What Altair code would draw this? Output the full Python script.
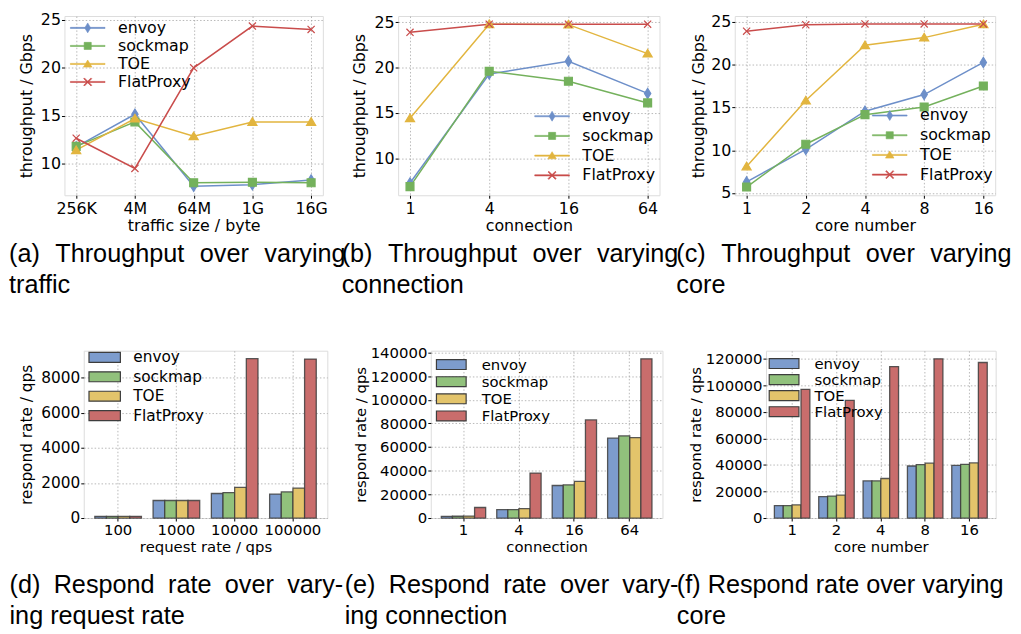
import math
import altair as alt
import pandas as pd

SERIES = ["envoy", "sockmap", "TOE", "FlatProxy"]
LINE_COLORS = ["#6d8fc9", "#74b15c", "#e2b53f", "#c94c4b"]
BAR_COLORS = ["#7d9ccd", "#91c17c", "#e3c46b", "#c96d6c"]

# (a) throughput vs traffic size
a_x = ["256K", "4M", "64M", "1G", "16G"]
a_envoy = [11.75, 15.15, 7.65, 7.8, 8.3]
a_sockmap = [11.8, 14.35, 8.0, 8.05, 8.0]
a_toe = [11.4, 14.7, 12.85, 14.35, 14.35]
a_flat = [12.65, 9.5, 20.0, 24.35, 24.0]

# (b) throughput vs connection
b_x = ["1", "4", "16", "64"]
b_envoy = [7.25, 19.3, 20.7, 17.15]
b_sockmap = [6.85, 19.6, 18.5, 16.1]
b_toe = [14.4, 24.8, 24.75, 21.55]
b_flat = [23.9, 24.8, 24.8, 24.8]

# (c) throughput vs core number
c_x = ["1", "2", "4", "8", "16"]
c_envoy = [6.3, 10.1, 14.55, 16.5, 20.25]
c_sockmap = [5.7, 10.7, 14.15, 15.05, 17.5]
c_toe = [8.1, 15.8, 22.25, 23.15, 24.7]
c_flat = [23.9, 24.65, 24.75, 24.75, 24.75]

# (d) respond rate vs request rate
d_x = ["100", "1000", "10000", "100000"]
d_envoy = [100, 1000, 1400, 1365]
d_sockmap = [100, 1000, 1455, 1490]
d_toe = [100, 1000, 1745, 1710]
d_flat = [100, 1000, 9090, 9070]

# (e) respond rate vs connection
e_x = ["1", "4", "16", "64"]
e_envoy = [1400, 7100, 27500, 67500]
e_sockmap = [1500, 7150, 28000, 69400]
e_toe = [1700, 8000, 30900, 68000]
e_flat = [8900, 38000, 82900, 134600]

# (f) respond rate vs core number
f_x = ["1", "2", "4", "8", "16"]
f_envoy = [9400, 16100, 28000, 39200, 39700]
f_sockmap = [9400, 16500, 28000, 40200, 40500]
f_toe = [9900, 17300, 29800, 41300, 41500]
f_flat = [97000, 88700, 114100, 120000, 117200]

CAPTIONS = {
    "a": ["(a) \u2004Throughput \u2004over \u2004varying", "traffic"],
    "b": ["(b) \u2004Throughput \u2004over \u2004varying", "connection"],
    "c": ["(c) \u2004Throughput \u2004over \u2004varying", "core"],
    "d": ["(d) \u2005Respond \u2005rate \u2005over \u2005vary-", "ing request rate"],
    "e": ["(e) \u2005Respond \u2005rate \u2005over \u2005vary-", "ing connection"],
    "f": ["(f) Respond rate over varying", "core"],
}


def frame(xs, cols):
    rows = []
    for s, vals in zip(SERIES, cols):
        for i, (x, v) in enumerate(zip(xs, vals)):
            rows.append({"x": x, "i": i, "series": s, "value": v})
    return pd.DataFrame(rows)


def fmt(v):
    s = f"{v:.3f}".rstrip("0").rstrip(".")
    return "0" if s in ("-0", "") else s


def polygon(pts):
    n = len(pts)
    area = sum(pts[k][0] * pts[(k + 1) % n][1] - pts[(k + 1) % n][0] * pts[k][1] for k in range(n))
    if area < 0:
        pts = pts[::-1]
    return "M" + "L".join(f"{fmt(x)},{fmt(y)}" for x, y in pts) + "Z"


def rect(hw, hh):
    return [(-hw, -hh), (hw, -hh), (hw, hh), (-hw, hh)]


def diamond(hw, hh):
    return [(0, -hh), (hw, 0), (0, hh), (-hw, 0)]


def triangle(hw, top, bot):
    return [(0, top), (hw, bot), (-hw, bot)]


def xarms(h, t):
    p = t / math.sqrt(2)
    a1 = [(-h + p, -h - p), (h + p, h - p), (h - p, h + p), (-h - p, -h + p)]
    a2 = [(h + p, -h + p), (-h + p, h + p), (-h - p, h - p), (h - p, -h - p)]
    return [a1, a2]


# chart markers (size 100 -> 5 px per unit)
MU = 5.0
MARKERS = [
    polygon(diamond(3.2 / MU, 5.2 / MU)),
    polygon(rect(4.0 / MU, 4.0 / MU)),
    polygon(triangle(4.6 / MU, -4.3 / MU, 3.4 / MU)),
    "M-0.72,-0.72L0.72,0.72M0.72,-0.72L-0.72,0.72",
]

# legend symbols: a line with the marker in its middle (symbol size 256 -> 8 px per unit)
LU = 8.0
LINE_BAR = polygon(rect(17.5 / LU, 0.55 / LU))
LEG_PATHS = [
    LINE_BAR + polygon(diamond(3.0 / LU, 5.0 / LU)),
    LINE_BAR + polygon(rect(3.6 / LU, 3.6 / LU)),
    LINE_BAR + polygon(triangle(4.3 / LU, -4.0 / LU, 3.2 / LU)),
    LINE_BAR + "".join(polygon(p) for p in xarms(3.7 / LU, 0.55 / LU)),
]

AXIS_COMMON = dict(
    domain=False, grid=True, gridColor="#a6a6a6", gridDash=[1.5, 2], gridWidth=0.8,
    tickColor="#000", tickWidth=1, tickSize=3, labelColor="#000", titleColor="#000",
    labelFont="DejaVu Sans", titleFont="DejaVu Sans", titleFontWeight="normal",
)


def caption(key, dx, offset, line_height):
    return alt.TitleParams(
        text=CAPTIONS[key], orient="bottom", anchor="start", frame="group",
        dx=dx, offset=offset, font="Liberation Sans", fontSize=25.5,
        fontWeight="normal", color="#000", lineHeight=line_height, baseline="top",
    )


def line_panel(key, xs, cols, xtitle, ydom, yvals, w, h, lx, ly, rowpad, cdx, yext):
    df = frame(xs, cols)
    n = len(xs)
    x = alt.X("x:N", sort=xs, scale=alt.Scale(type="point", padding=0.05 * (n - 1)),
              axis=alt.Axis(title=xtitle, labelAngle=0, labelFontSize=16, titleFontSize=16,
                            labelPadding=2, titlePadding=2, **AXIS_COMMON))
    y = alt.Y("value:Q", scale=alt.Scale(domain=ydom, nice=False, zero=False),
              axis=alt.Axis(title="throughput / Gbps", values=yvals, labelFontSize=16,
                            titleFontSize=16, labelPadding=1, titlePadding=2,
                            minExtent=yext, maxExtent=yext, **AXIS_COMMON))
    cs = alt.Scale(domain=SERIES, range=LINE_COLORS)
    leg = alt.Legend(orient="none", legendX=lx, legendY=ly, title=None,
                     labelFont="DejaVu Sans", labelFontSize=16, labelColor="#000",
                     labelOffset=22, rowPadding=rowpad, padding=0, symbolSize=256,
                     symbolStrokeWidth=0.6, symbolOpacity=1)
    lines = alt.Chart(df).mark_line(strokeWidth=1.5).encode(
        x=x, y=y, order=alt.Order("i:Q"),
        color=alt.Color("series:N", scale=cs, legend=leg),
    )
    # carries the legend symbol shapes (line + marker); draws nothing itself
    helper = alt.Chart(df).transform_filter("datum.value < -1e9").mark_point(filled=True).encode(
        x=x, y=y,
        fill=alt.Fill("series:N", scale=cs, legend=None),
        shape=alt.Shape("series:N", scale=alt.Scale(domain=SERIES, range=LEG_PATHS), legend=None),
    )
    layers = [lines, helper]
    for s, col, shp in zip(SERIES, LINE_COLORS, MARKERS):
        layers.append(
            alt.Chart(df).transform_filter(alt.datum.series == s).mark_point(
                shape=shp, filled=True, fill=col, stroke=col, size=100, strokeWidth=1.2,
                opacity=1).encode(x=x, y=y)
        )
    return alt.layer(*layers).properties(width=w, height=h, title=caption(key, cdx, 8, 32))


def bar_panel(key, xs, cols, xtitle, ydom, yvals, w, h, lx, ly, rowpad, cdx, yext, fs,
              rect_w, loff):
    df = frame(xs, cols)
    x = alt.X("x:N", sort=xs, scale=alt.Scale(paddingInner=0.2, paddingOuter=0.19),
              axis=alt.Axis(title=xtitle, labelAngle=0, bandPosition=0.5, labelFontSize=15,
                            titleFontSize=15, labelPadding=2, titlePadding=2, **AXIS_COMMON))
    y = alt.Y("value:Q", scale=alt.Scale(domain=ydom, nice=False, zero=True),
              axis=alt.Axis(title="respond rate / qps", values=yvals, format="d",
                            labelFontSize=fs, titleFontSize=fs, labelPadding=1, titlePadding=2,
                            minExtent=yext, maxExtent=yext, **AXIS_COMMON))
    leg = alt.Legend(orient="none", legendX=lx, legendY=ly, title=None, labelFont="DejaVu Sans",
                     labelFontSize=fs, labelColor="#000", labelOffset=loff, rowPadding=rowpad,
                     padding=0, symbolSize=100,
                     symbolType=polygon(rect(rect_w / 2 / 5.0, 1.0)),
                     symbolStrokeColor="#3d3d3d", symbolStrokeWidth=1.2, symbolOpacity=1)
    bars = alt.Chart(df).mark_bar(stroke="#3d3d3d", strokeWidth=1.3, strokeOpacity=0.85,
                                  opacity=1).encode(
        x=x, y=y,
        xOffset=alt.XOffset("series:N", sort=SERIES,
                            scale=alt.Scale(paddingInner=0, paddingOuter=0)),
        color=alt.Color("series:N", scale=alt.Scale(domain=SERIES, range=BAR_COLORS), legend=leg),
    )
    return bars.properties(width=w, height=h, title=caption(key, cdx, 19, 31))


def spacer(w):
    return alt.Chart(pd.DataFrame({"v": [0]})).mark_point(opacity=0, size=0).encode(
        x=alt.X("v:Q", axis=None), y=alt.Y("v:Q", axis=None)
    ).properties(width=w, height=1, view=alt.ViewBackground(stroke="transparent"))


TOP_H = 181
BOT_H = 169

pa = line_panel("a", a_x, [a_envoy, a_sockmap, a_toe, a_flat], "traffic size / byte",
                [6.7, 25.4], [10, 15, 20, 25], 261, TOP_H, 15, 3.5, 1.2, -56, 28.7)
pb = line_panel("b", b_x, [b_envoy, b_sockmap, b_toe, b_flat], "connection",
                [5.9, 25.7], [10, 15, 20, 25], 264, TOP_H, 147, 92.7, 2.9, -57, 29.3)
pc = line_panel("c", c_x, [c_envoy, c_sockmap, c_toe, c_flat], "core number",
                [4.74, 25.67], [5, 10, 15, 20, 25], 263, TOP_H, 148, 92, 2.9, -59, 26.5)

pd_ = bar_panel("d", d_x, [d_envoy, d_sockmap, d_toe, d_flat], "request rate / qps",
                [0, 9545], [0, 2000, 4000, 6000, 8000], 246, BOT_H, 13.4, -1, 2.6, -75, 47.7,
                15.5, 31.7, 21.1)
pe = bar_panel("e", e_x, [e_envoy, e_sockmap, e_toe, e_flat], "connection",
               [0, 141430], [0, 20000, 40000, 60000, 80000, 100000, 120000, 140000],
               234, BOT_H, 13.2, 6.5, 1.3, -87, 60.6, 15, 30, 23.2)
pf = bar_panel("f", f_x, [f_envoy, f_sockmap, f_toe, f_flat], "core number",
               [0, 126100], [0, 20000, 40000, 60000, 80000, 100000, 120000],
               232, BOT_H, 10.8, 5.5, 0.2, -90, 61.4, 15, 30, 23.2)

RES_SCALE = dict(x="independent", y="independent", color="independent", fill="independent",
                 stroke="independent", shape="independent", xOffset="independent")
RES_LEG = dict(color="independent", fill="independent", stroke="independent",
               shape="independent")

# the leading empty views set the left offset of each row: (d) starts 19 px right of (a)
row1 = alt.hconcat(spacer(10), pa, pb, pc, spacing=76, bounds="flush").resolve_scale(
    **RES_SCALE).resolve_legend(**RES_LEG)
row2 = alt.hconcat(spacer(0.5), pd_, pe, pf, spacing=104.5, bounds="flush").resolve_scale(
    **RES_SCALE).resolve_legend(**RES_LEG)

chart = alt.concat(row1, row2, columns=1, bounds="full", spacing=46).resolve_scale(
    **RES_SCALE).resolve_legend(**RES_LEG).properties(
    padding={"left": -30, "top": 0, "right": 0, "bottom": 0}
).configure_view(stroke="#1a1a1a", strokeWidth=1).configure(font="DejaVu Sans")

chart.save("out.html", embed_options={"renderer": "svg", "actions": False})
